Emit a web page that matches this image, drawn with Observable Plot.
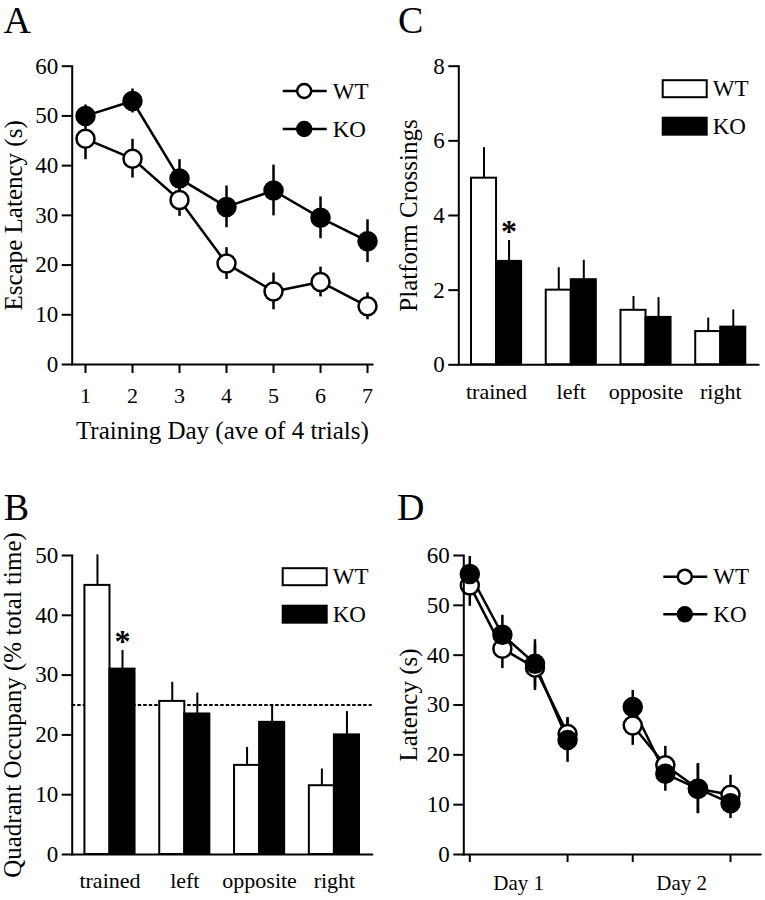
<!DOCTYPE html>
<html><head><meta charset="utf-8">
<script src="https://cdn.jsdelivr.net/npm/d3@7"></script>
<script src="https://cdn.jsdelivr.net/npm/@observablehq/plot@0.6"></script>
<style>
html,body{margin:0;padding:0;background:#fff;}
#wrap{position:relative;width:765px;height:900px;overflow:hidden;background:#fff;font-family:"Liberation Serif","Times New Roman",serif;}
.panel{position:absolute;}
#overlay{position:absolute;left:0;top:0;pointer-events:none;}
</style></head><body>
<div id="wrap">
<div class="panel" id="pA" style="left:0;top:0"></div>
<div class="panel" id="pC" style="left:380px;top:0"></div>
<div class="panel" id="pB" style="left:0;top:450px"></div>
<div class="panel" id="pD" style="left:380px;top:450px"></div>
<svg id="overlay" width="765" height="900"></svg>
</div>
<script>
// ---------- DATA ----------
const groups = ["WT", "KO"];

// Panel A: escape latency by training day
const trainingDays = [1, 2, 3, 4, 5, 6, 7];
const wtEscape = [45.4, 41.4, 33.1, 20.3, 14.7, 16.6, 11.7];
const wtEscapeErr = [4.2, 3.9, 3.3, 3.2, 3.7, 3.0, 2.7];
const koEscape = [50.0, 53.0, 37.4, 31.7, 35.0, 29.5, 24.8];
const koEscapeErr = [2.2, 2.4, 3.8, 4.2, 5.1, 4.2, 4.3];

// Panels B & C: probe trial quadrants
const quadrants = ["trained", "left", "opposite", "right"];
const wtOccupancy = [45.0, 25.6, 14.9, 11.5];
const wtOccupancyErr = [5.1, 3.2, 3.0, 2.8];
const koOccupancy = [31.0, 23.5, 22.1, 20.0];
const koOccupancyErr = [3.1, 3.5, 2.9, 3.9];
const chanceLevel = 25;
const occupancySignificant = [true, false, false, false];

const wtCrossings = [5.0, 2.0, 1.46, 0.89];
const wtCrossingsErr = [0.82, 0.6, 0.37, 0.36];
const koCrossings = [2.77, 2.28, 1.27, 1.01];
const koCrossingsErr = [0.56, 0.52, 0.53, 0.46];
const crossingsSignificant = [true, false, false, false];

// Panel D: latency per trial, two days
const probeDays = ["Day 1", "Day 2"];
const trialsPerDay = [1, 2, 3, 4];
const wtTrialLatency = [[54.0, 41.3, 37.5, 24.2], [25.9, 17.9, 13.2, 12.0]];
const wtTrialErr = [[4.2, 4.0, 4.6, 3.0], [4.0, 3.8, 5.0, 3.9]];
const koTrialLatency = [[56.3, 44.1, 38.3, 23.0], [29.6, 16.2, 13.2, 10.3]];
const koTrialErr = [[3.5, 3.9, 4.8, 4.5], [3.3, 3.5, 5.0, 3.1]];

// ---------- BUILD TABLES ----------
const escapeRows = trainingDays.flatMap((d, i) => [
  {group: "WT", day: d, mean: wtEscape[i], err: wtEscapeErr[i]},
  {group: "KO", day: d, mean: koEscape[i], err: koEscapeErr[i]}
]);
const occRows = quadrants.flatMap((q, i) => [
  {group: "WT", quad: q, val: wtOccupancy[i], err: wtOccupancyErr[i], sig: false},
  {group: "KO", quad: q, val: koOccupancy[i], err: koOccupancyErr[i], sig: occupancySignificant[i]}
]);
const crossRows = quadrants.flatMap((q, i) => [
  {group: "WT", quad: q, val: wtCrossings[i], err: wtCrossingsErr[i], sig: false},
  {group: "KO", quad: q, val: koCrossings[i], err: koCrossingsErr[i], sig: crossingsSignificant[i]}
]);
const trialSlot = (dayIdx, trial) => dayIdx * (trialsPerDay.length + 1) + trial;
const probeRows = probeDays.flatMap((day, di) => trialsPerDay.flatMap((t, ti) => [
  {group: "WT", day, pos: trialSlot(di, t), mean: wtTrialLatency[di][ti], err: wtTrialErr[di][ti]},
  {group: "KO", day, pos: trialSlot(di, t), mean: koTrialLatency[di][ti], err: koTrialErr[di][ti]}
]));
const dayTickPos = probeDays.flatMap((d, di) => [trialSlot(di, trialsPerDay[0]), trialSlot(di, trialsPerDay[trialsPerDay.length - 1])]);
const dayLabelRows = probeDays.map((d, di) => ({day: d, center: d3.mean(trialsPerDay, t => trialSlot(di, t))}));

// ---------- STYLE ----------
const FONT = '"Liberation Serif", "Times New Roman", serif';
const baseStyle = {fontFamily: FONT, fontSize: "22px", color: "black", background: "transparent", overflow: "visible"};
const TITLE = 25;
const YTICK = 23;

function yTitleMark(title, dx) {
  return Plot.text([title], {frameAnchor: "left", rotate: -90, dx, textAnchor: "middle", lineAnchor: "middle", fontSize: TITLE});
}

function linePanel({rows, xField, width, height, margins, xDomain, yDomain, yTicks, xTicks, xTickFormat, xTickSize, xTickPadding, yTitle, yTitleDx, xTitle, xTitleDy, zKey, extra = []}) {
  return Plot.plot({
    width, height, ...margins,
    style: baseStyle,
    x: {domain: xDomain},
    y: {domain: yDomain},
    marks: [
      Plot.ruleX(rows, {x: xField, y1: d => d.mean - d.err, y2: d => d.mean + d.err, stroke: "black", strokeWidth: 2.5}),
      Plot.line(rows, {x: xField, y: "mean", z: zKey, stroke: "black", strokeWidth: 2.5}),
      Plot.dot(rows.filter(d => d.group === "WT"), {x: xField, y: "mean", r: 9, fill: "white", stroke: "black", strokeWidth: 2.5}),
      Plot.dot(rows.filter(d => d.group === "KO"), {x: xField, y: "mean", r: 9, fill: "black", stroke: "black", strokeWidth: 2.5}),
      Plot.frame({anchor: "left", strokeWidth: 2}),
      Plot.frame({anchor: "bottom", strokeWidth: 2}),
      Plot.axisY({ticks: yTicks, tickSize: 10, tickPadding: 4, strokeWidth: 2, fontSize: YTICK, label: null}),
      Plot.axisX({ticks: xTicks, tickSize: xTickSize, tickPadding: xTickPadding, strokeWidth: 2, tickFormat: xTickFormat, label: null}),
      yTitleMark(yTitle, yTitleDx),
      ...(xTitle ? [Plot.text([xTitle], {frameAnchor: "bottom", dy: xTitleDy, textAnchor: "middle", lineAnchor: "middle", fontSize: TITLE})] : []),
      ...extra
    ]
  });
}

function barPanel({rows, width, height, margins, yDomain, yTicks, yTitle, yTitleDx, labelPadding, refLine}) {
  const range = [margins.marginLeft, width - margins.marginRight];
  const xOpts = {type: "band", domain: quadrants, paddingInner: 0.33, paddingOuter: 0.17, align: 0.5, round: false};
  const bw = Plot.scale({x: {...xOpts, range}}).bandwidth;
  const wt = rows.filter(d => d.group === "WT");
  const ko = rows.filter(d => d.group === "KO");
  return Plot.plot({
    width, height, ...margins,
    style: baseStyle,
    x: xOpts,
    y: {domain: yDomain},
    marks: [
      ...(refLine != null ? [Plot.ruleY([refLine], {stroke: "black", strokeWidth: 2, strokeDasharray: "3.5,2"})] : []),
      Plot.ruleX(wt, {x: "quad", y1: "val", y2: d => d.val + d.err, dx: -bw / 4, stroke: "black", strokeWidth: 2}),
      Plot.ruleX(ko, {x: "quad", y1: "val", y2: d => d.val + d.err, dx: bw / 4, stroke: "black", strokeWidth: 2}),
      Plot.barY(wt, {x: "quad", y: "val", fill: "white", stroke: "black", strokeWidth: 2, insetRight: bw / 2}),
      Plot.barY(ko, {x: "quad", y: "val", fill: "black", stroke: "black", strokeWidth: 2, insetLeft: bw / 2}),
      Plot.text(ko.filter(d => d.sig), {x: "quad", y: d => d.val + d.err, dx: bw / 4, dy: -9, text: () => "*", fontSize: 32, fontWeight: "bold"}),
      Plot.frame({anchor: "left", strokeWidth: 2}),
      Plot.frame({anchor: "bottom", strokeWidth: 2}),
      Plot.axisY({ticks: yTicks, tickSize: 10, tickPadding: 4, strokeWidth: 2, fontSize: YTICK, label: null}),
      Plot.axisX({tickSize: 0, tickPadding: labelPadding, label: null}),
      yTitleMark(yTitle, yTitleDx)
    ]
  });
}

// Panel A
document.getElementById("pA").append(linePanel({
  rows: escapeRows, xField: "day", width: 380, height: 450,
  margins: {marginLeft: 71.7, marginRight: 8, marginTop: 65.7, marginBottom: 86},
  xDomain: [0.717, 7.106], yDomain: [0, 60], yTicks: d3.range(0, 61, 10),
  xTicks: trainingDays, xTickFormat: d => String(d), xTickSize: 9, xTickPadding: 14,
  yTitle: "Escape Latency (s)", yTitleDx: -58,
  xTitle: "Training Day (ave of 4 trials)", xTitleDy: 66, zKey: "group"
}));

// Panel C
document.getElementById("pC").append(barPanel({
  rows: crossRows, width: 385, height: 450,
  margins: {marginLeft: 78.3, marginRight: 7, marginTop: 65.7, marginBottom: 85.7},
  yDomain: [0, 8], yTicks: [0, 2, 4, 6, 8],
  yTitle: "Platform Crossings", yTitleDx: -50.3, labelPadding: 19, refLine: null
}));

// Panel B
document.getElementById("pB").append(barPanel({
  rows: occRows, width: 380, height: 450,
  margins: {marginLeft: 71.7, marginRight: 8.3, marginTop: 105, marginBottom: 46},
  yDomain: [0, 50], yTicks: d3.range(0, 51, 10),
  yTitle: "Quadrant Occupany (% total time)", yTitleDx: -58.7, labelPadding: 18, refLine: chanceLevel
}));

// Panel D
document.getElementById("pD").append(linePanel({
  rows: probeRows, xField: "pos", width: 385, height: 450,
  margins: {marginLeft: 83.3, marginRight: 5, marginTop: 105, marginBottom: 46},
  xDomain: [0.816, 9.92], yDomain: [0, 60], yTicks: d3.range(0, 61, 10),
  xTicks: dayTickPos, xTickFormat: () => "", xTickSize: 8, xTickPadding: 3,
  yTitle: "Latency (s)", yTitleDx: -55, xTitle: null, zKey: d => d.group + d.day,
  extra: [Plot.text(dayLabelRows, {x: "center", text: "day", frameAnchor: "bottom", dy: 29, textAnchor: "middle", lineAnchor: "middle", fontSize: 21})]
}));

// ---------- OVERLAY: panel letters & legends ----------
const ov = d3.select("#overlay").attr("font-family", FONT);
[{t: "A", x: 17.3, y: 33}, {t: "C", x: 410.8, y: 33}, {t: "B", x: 16.5, y: 520}, {t: "D", x: 410.8, y: 520}]
  .forEach(l => ov.append("text").attr("x", l.x).attr("y", l.y).attr("text-anchor", "middle").attr("font-size", 38).text(l.t));

function lineLegend(x0, yWT, yKO) {
  [[groups[0], yWT, "white"], [groups[1], yKO, "black"]].forEach(([g, y, f]) => {
    ov.append("line").attr("x1", x0).attr("x2", x0 + 44).attr("y1", y).attr("y2", y).attr("stroke", "black").attr("stroke-width", 2.5);
    ov.append("circle").attr("cx", x0 + 21.5).attr("cy", y).attr("r", 7).attr("fill", f).attr("stroke", "black").attr("stroke-width", 2.5);
    ov.append("text").attr("x", x0 + 50).attr("y", y + 7.5).attr("font-size", 23).text(g);
  });
}
function barLegend(x0, yWT, yKO) {
  [[groups[0], yWT, "white"], [groups[1], yKO, "black"]].forEach(([g, y, f]) => {
    ov.append("rect").attr("x", x0).attr("y", y - 8.5).attr("width", 44).attr("height", 17).attr("fill", f).attr("stroke", "black").attr("stroke-width", 2);
    ov.append("text").attr("x", x0 + 50).attr("y", y + 7.5).attr("font-size", 23).text(g);
  });
}
lineLegend(282.7, 91, 129);
lineLegend(663.3, 576.7, 614.3);
barLegend(662.7, 88.7, 126.2);
barLegend(282.7, 576.7, 614.2);
</script>
</body></html>
